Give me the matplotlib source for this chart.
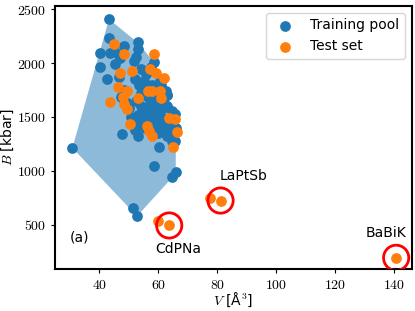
import numpy as np
import matplotlib
matplotlib.use("Agg")
from matplotlib import pyplot as plt
from matplotlib.ticker import FuncFormatter

plt.rcParams['mathtext.fontset'] = 'cm'

# training pool: volume [A^3], bulk modulus [kbar]
train_V = [43.3, 43.3, 43.6, 40.1, 40.4, 42.7, 45.2, 46.8, 48.3, 45.5, 47.0, 53.0, 53.0, 52.5,
           51.9, 54.1, 58.6, 57.5, 56.0,
           52.0, 53.5, 55.0, 56.5, 58.0, 59.5, 61.0, 62.5, 54.0, 55.5, 57.0, 58.5, 60.0, 61.5,
           63.0, 52.5, 54.0, 55.5, 57.0, 58.5, 60.0, 61.5, 63.0, 64.5, 53.0, 54.5, 56.0, 57.5,
           59.0, 60.5, 62.0, 63.5, 65.5, 54.0, 55.5, 58.0, 59.5, 61.0, 62.5, 64.0, 65.0, 60.0,
           63.0, 64.5,
           47.4, 48.5, 50.8, 47.7, 53.0, 60.3, 58.6, 65.9, 64.8, 51.3, 52.8, 30.9, 49.0, 50.0,
           51.5, 52.0, 60.5, 63.0, 66.0, 65.5]
train_B = [2407, 2228, 2092, 2092, 1966, 1848, 1991, 1867, 2160, 2100, 2050, 2191, 2129, 2060,
           2021, 1944, 2006, 1960, 1900,
           1850, 1800, 1830, 1780, 1800, 1760, 1800, 1740, 1720, 1700, 1680, 1650, 1700, 1660,
           1700, 1650, 1600, 1560, 1600, 1560, 1620, 1580, 1600, 1560, 1520, 1480, 1500, 1530,
           1480, 1520, 1480, 1440, 1530, 1430, 1400, 1440, 1400, 1420, 1380, 1400, 1370, 1350,
           1320, 1280,
           1681, 1750, 1496, 1343, 1327, 1219, 1049, 987, 941, 657, 580, 1213, 1640, 1580,
           1440, 1380, 1830, 1700, 1400, 1280]

# test set
test_V = [44.9, 48.3, 58.6, 47.1, 51.0, 57.3, 59.2, 62.0, 46.3, 49.4, 48.0, 43.5, 53.2, 56.4,
          57.8, 60.5, 60.9, 48.5, 49.4, 50.5, 63.5, 65.7, 56.2, 57.0, 57.8, 66.3, 65.1,
          59.8, 63.7, 77.5, 81.1, 140.6]
test_B = [2176, 2083, 2083, 1904, 1929, 1944, 1904, 1858, 1774, 1744, 1681, 1635, 1676, 1737,
          1744, 1744, 1676, 1620, 1574, 1435, 1491, 1482, 1419, 1373, 1327, 1364, 1225,
          531, 494, 746, 725, 194]

# highlighted outliers
names = ['CdPNa', 'LaPtSb', 'BaBiK']
out_V = [63.7, 81.1, 140.6]
out_B = [494, 725, 194]
label_V = [66.6, 88.8, 137.2]
label_B = [271, 948, 420]


def convex_hull(xs, ys):
    pts = sorted(set(zip(xs, ys)))

    def cross(o, a, b):
        return (a[0] - o[0]) * (b[1] - o[1]) - (a[1] - o[1]) * (b[0] - o[0])

    lower, upper = [], []
    for p in pts:
        while len(lower) >= 2 and cross(lower[-2], lower[-1], p) <= 0:
            lower.pop()
        lower.append(p)
    for p in reversed(pts):
        while len(upper) >= 2 and cross(upper[-2], upper[-1], p) <= 0:
            upper.pop()
        upper.append(p)
    return np.array(lower[:-1] + upper[:-1])


fig, ax = plt.subplots(figsize=(4.15, 3.11), dpi=100)
fig.subplots_adjust(left=0.1325, right=0.993, bottom=0.135, top=0.981)

hull = convex_hull(train_V, train_B)
ax.fill(hull[:, 0], hull[:, 1], color='tab:blue', alpha=0.5, lw=0)

ax.scatter(train_V, train_B, s=45, color='tab:blue', label='Training pool', zorder=3)
ax.scatter(test_V, test_B, s=45, color='tab:orange', label='Test set', zorder=4)
ax.scatter(out_V, out_B, s=330, facecolor='none', edgecolor='red', lw=2, zorder=5)

for n, x, y in zip(names, label_V, label_B):
    ax.text(x, y, n, ha='center', va='center', fontsize=10)
ax.text(33.3, 383, '(a)', ha='center', va='center', fontsize=10)

ax.set_xlim(25, 146)
ax.set_ylim(90, 2530)
ax.set_xticks([40, 60, 80, 100, 120, 140])
ax.set_yticks([500, 1000, 1500, 2000, 2500])
fmt = FuncFormatter(lambda v, p: r'$%d$' % v)
ax.xaxis.set_major_formatter(fmt)
ax.yaxis.set_major_formatter(fmt)
ax.tick_params(labelsize=10, length=3)
for s in ax.spines.values():
    s.set_linewidth(1.5)

ax.set_xlabel(r'$V$ [Å$^3$]', fontsize=10)
ax.set_ylabel(r'$B$ [kbar]', fontsize=10)
ax.xaxis.set_label_coords(0.5, -0.082)
ax.yaxis.set_label_coords(-0.108, 0.5)
ax.legend(loc='upper right', fontsize=10)

plt.savefig('out.png')
